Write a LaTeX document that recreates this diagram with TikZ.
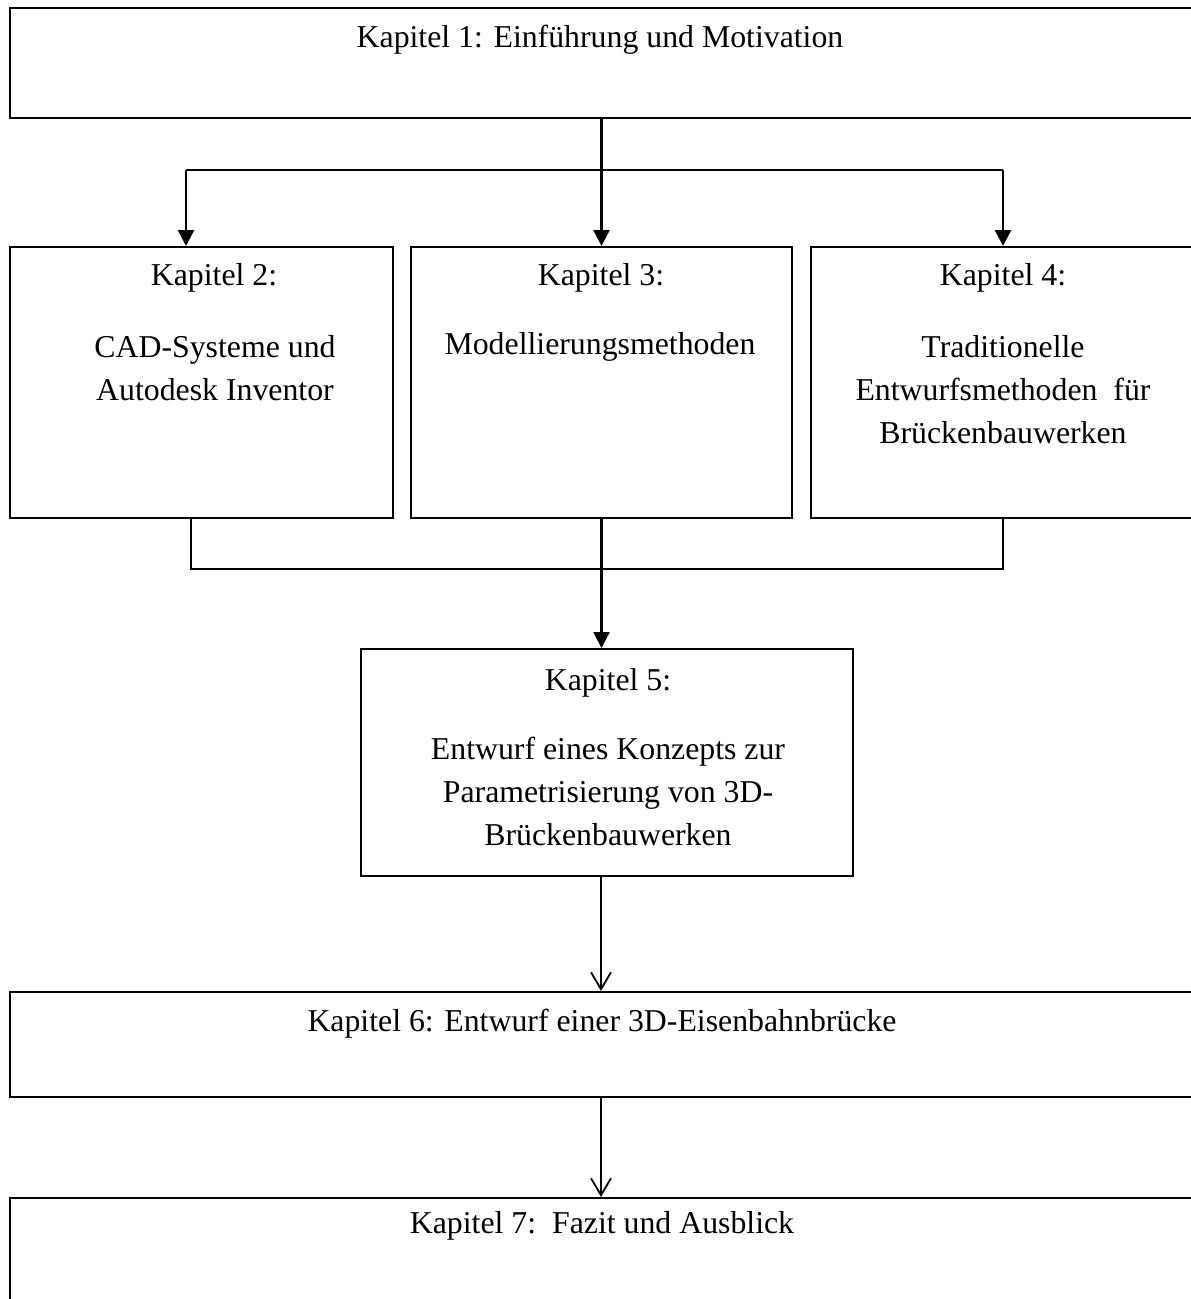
\documentclass[tikz,border=0pt]{standalone}
\usepackage{fontspec}
\setmainfont{Liberation Serif}
\usetikzlibrary{arrows.meta}
\begin{document}
\begin{tikzpicture}[x=1pt,y=-1pt,
  box/.style={draw, line width=2pt, inner sep=0pt},
  txt/.style={font=\fontsize{31.8}{43}\selectfont, align=center, inner sep=0pt},
  link/.style={line width=2.5pt},
  farr/.style={line width=2.5pt, -{Triangle[width=16pt,length=16pt]}},
  varr/.style={line width=1.8pt, -{Straight Barb[width=20pt,length=17pt,line width=1.8pt]}}]
\useasboundingbox (0,0) rectangle (1191,1299);
\clip (0,0) rectangle (1191,1299);
% boxes
\node[box, minimum width=1200pt, minimum height=110pt] (b1) at (610,63) {};
\node[box, minimum width=383pt, minimum height=271pt] (b2) at (201.5,382.5) {};
\node[box, minimum width=381pt, minimum height=271pt] (b3) at (601.5,382.5) {};
\node[box, minimum width=400pt, minimum height=271pt] (b4) at (1011,382.5) {};
\node[box, minimum width=492pt, minimum height=227pt] (b5) at (607,762.5) {};
\node[box, minimum width=1200pt, minimum height=105pt] (b6) at (610,1044.5) {};
\node[box, minimum width=1200pt, minimum height=132pt] (b7) at (610,1264) {};
% texts
\node[txt] (t1) at (600,40) {Kapitel 1: Einführung und Motivation};
\node[txt] (t2a) at (214,278) {Kapitel 2:};
\node[txt] (t2b) at (215,368) {CAD-Systeme und\\Autodesk Inventor};
\node[txt] (t3a) at (601,278) {Kapitel 3:};
\node[txt] (t3b) at (600,347) {Modellierungsmethoden};
\node[txt] (t4a) at (1003,278) {Kapitel 4:};
\node[txt] (t4b) at (1003,390) {Traditionelle\\Entwurfsmethoden\ \ für\\Brückenbauwerken};
\node[txt] (t5a) at (608,683) {Kapitel 5:};
\node[txt] (t5b) at (608,791) {Entwurf eines Konzepts zur\\Parametrisierung von 3D-\\Brückenbauwerken};
\node[txt] (t6) at (602,1024) {Kapitel 6: Entwurf einer 3D-Eisenbahnbrücke};
\node[txt] (t7) at (602,1226) {Kapitel 7:\ \ Fazit und Ausblick};
% top connectors
\coordinate (l2) at (186,170);
\coordinate (m3) at (601.5,170);
\coordinate (r4) at (1003,170);
\draw[link] (l2) -- (r4);
\draw[farr] (m3 |- b1.south) -- (m3 |- b3.north);
\draw[farr] (l2) -- (l2 |- b2.north);
\draw[farr] (r4) -- (r4 |- b4.north);
% middle connectors
\coordinate (l5) at (191,569);
\coordinate (m5) at (601.5,569);
\coordinate (r5) at (1003,569);
\draw[link] (l5 |- b2.south) -- (l5) -- (r5) -- (r5 |- b4.south);
\draw[link] (m5 |- b3.south) -- (m5);
\draw[farr] (m5) -- (m5 |- b5.north);
% bottom connectors
\coordinate (ax) at (601,0);
\draw[varr] (ax |- b5.south) -- (ax |- b6.north);
\draw[varr] (ax |- b6.south) -- (ax |- b7.north);
\end{tikzpicture}
\end{document}
